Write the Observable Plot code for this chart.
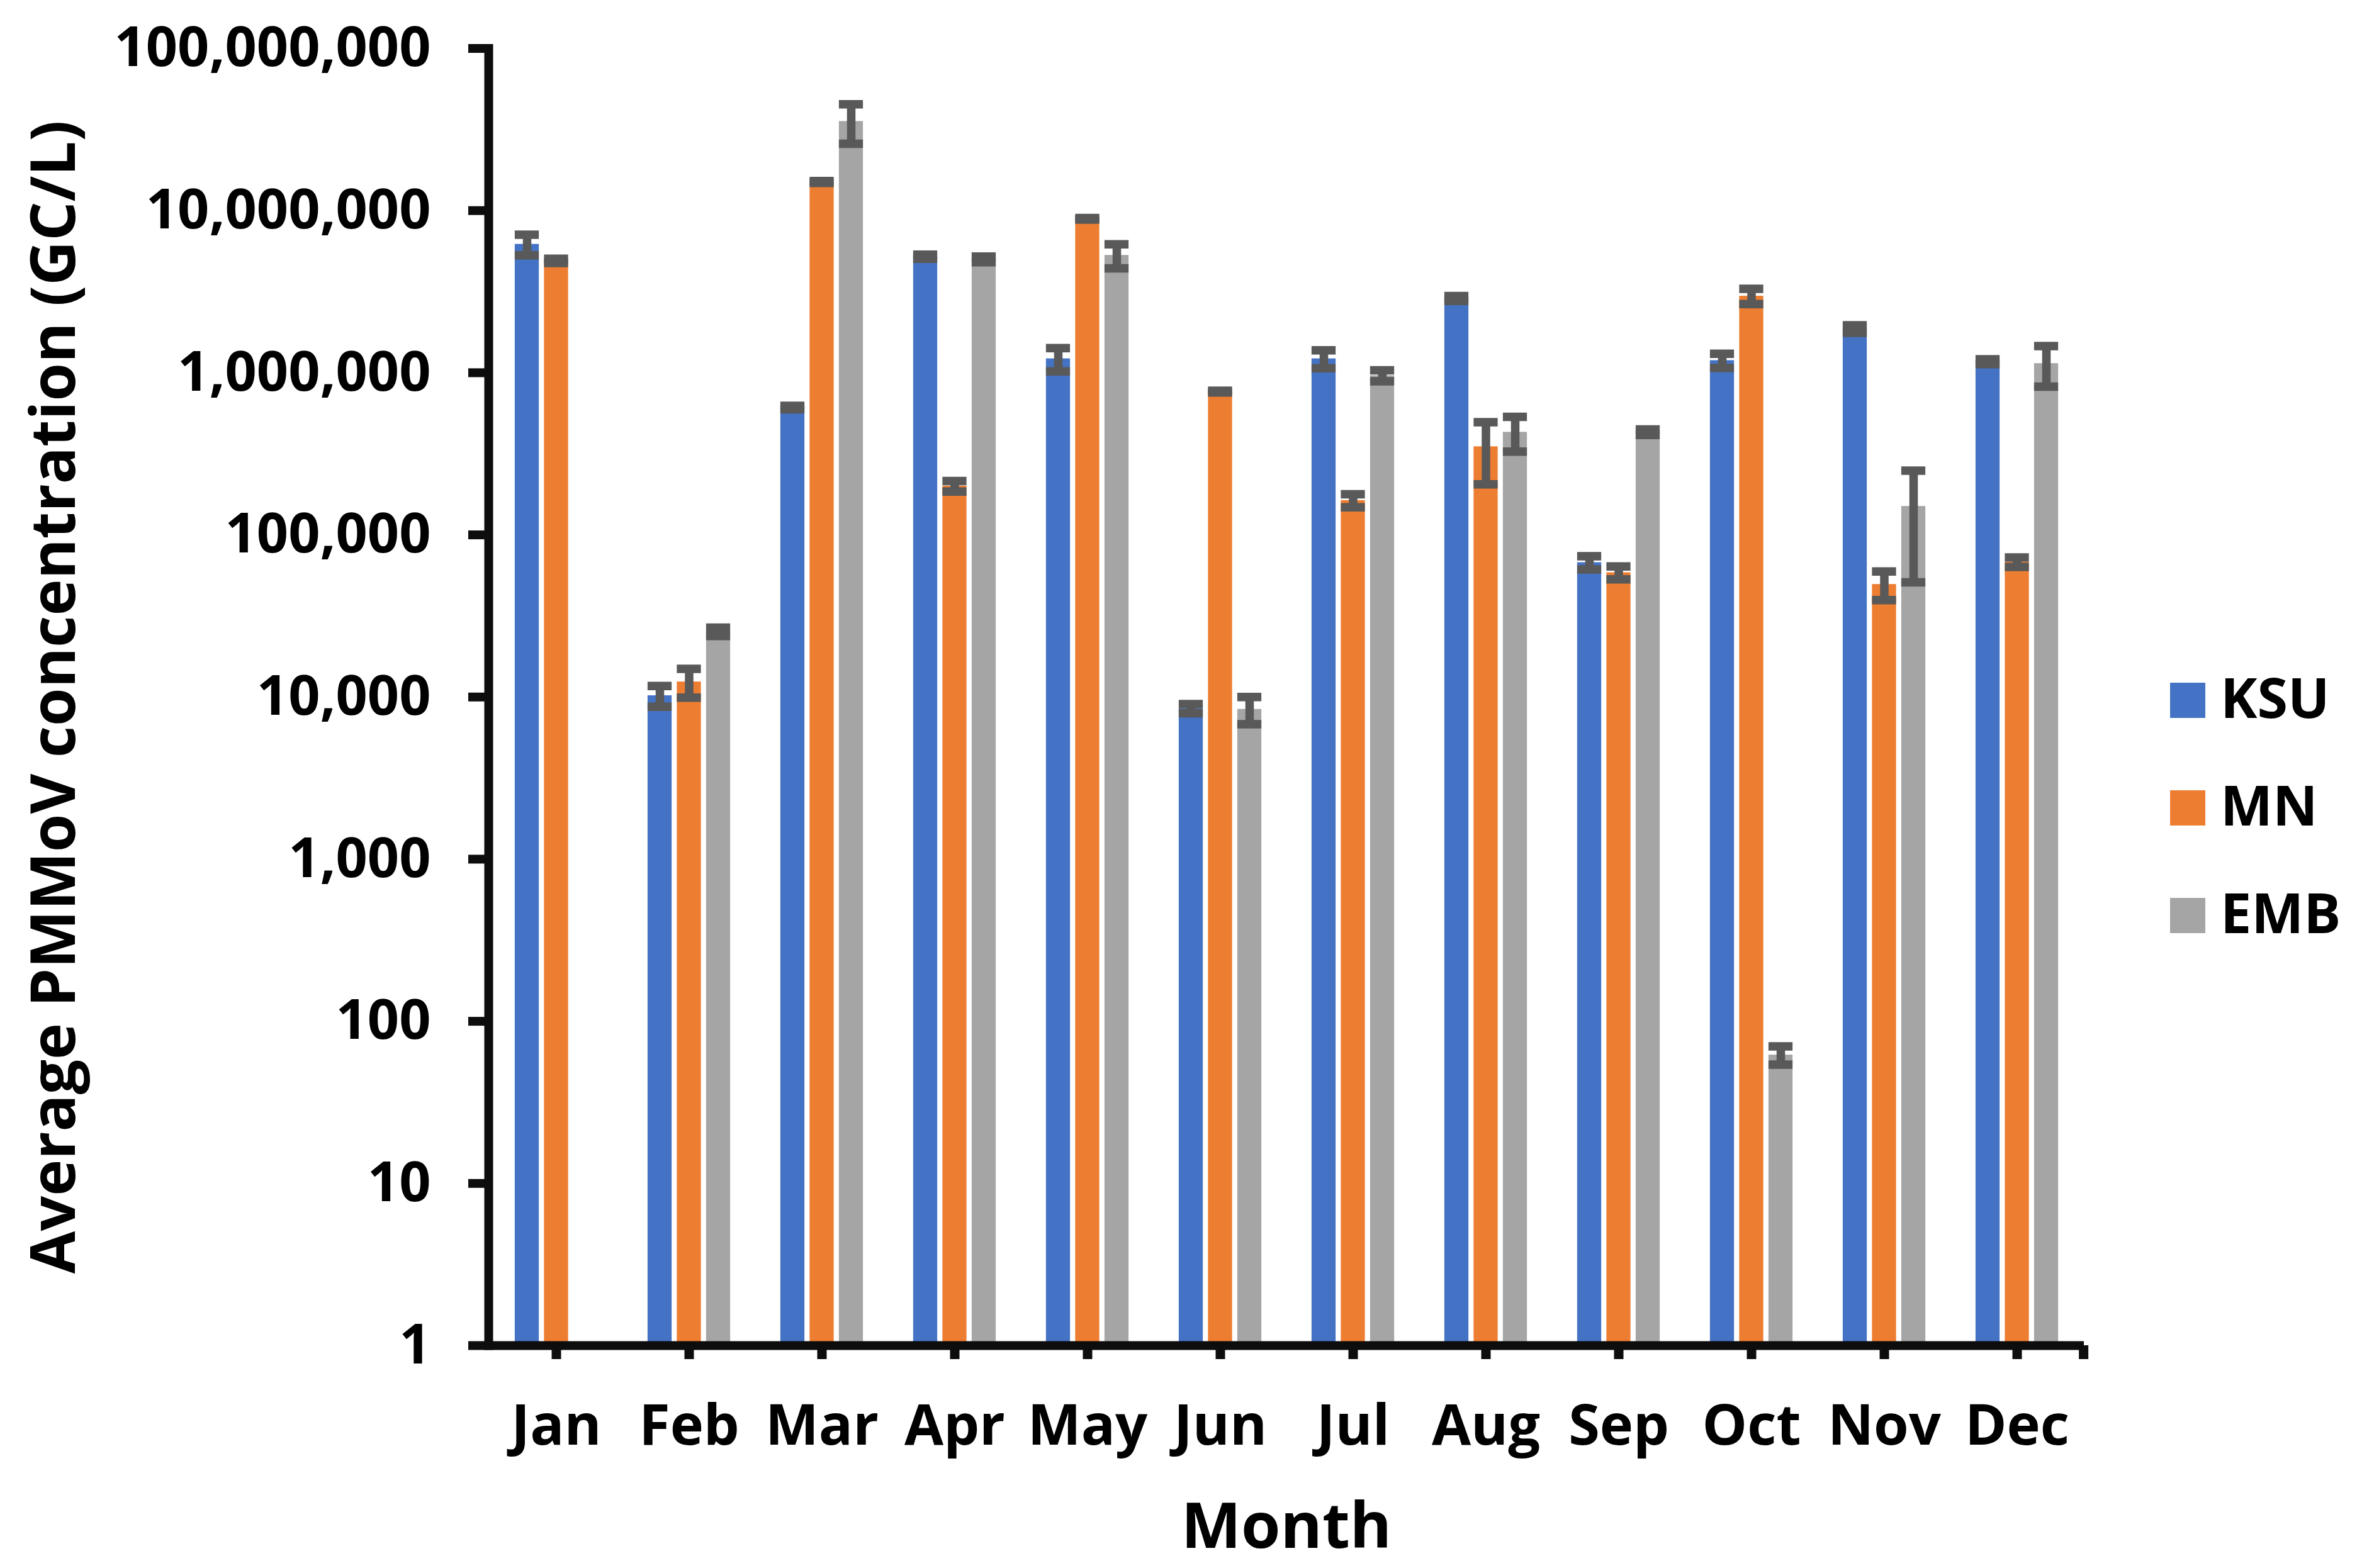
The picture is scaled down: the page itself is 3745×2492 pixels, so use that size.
<!DOCTYPE html>
<html>
<head>
<meta charset="utf-8">
<script src="https://cdn.jsdelivr.net/npm/d3@7"></script>
<script src="https://cdn.jsdelivr.net/npm/@observablehq/plot@0.6"></script>
<style>
  html, body { margin: 0; padding: 0; background: #ffffff; }
  #wrap { position: relative; width: 3745px; height: 2492px; background: #ffffff; overflow: hidden; }
  #legend { position: absolute; left: 3400px; top: 1040px; }
</style>
</head>
<body>
<div id="wrap"><div id="chart"></div><div id="legend"></div></div>
<script>
// ---- data ----
const months = ["Jan", "Feb", "Mar", "Apr", "May", "Jun", "Jul", "Aug", "Sep", "Oct", "Nov", "Dec"];
const seriesNames = ["KSU", "MN", "EMB"];
const seriesColors = ["#4472C4", "#ED7D31", "#A5A5A5"];

const ksuMean = [6.2e6, 1.02e4, 6.1e5, 5.2e6, 1.22e6, 8.5e3, 1.22e6, 2.87e6, 6.75e4, 1.19e6, 1.86e6, 1.17e6];
const ksuSD   = [0.9e6, 1.5e3, 1.5e4, 0.15e6, 0.2e6, 0.55e3, 0.155e6, 0.1e6, 6.3e3, 0.12e6, 0.1e6, 0.04e6];
const mnMean  = [4.9e6, 1.24e4, 1.5e7, 2.0e5, 8.9e6, 7.65e5, 1.63e5, 3.5e5, 5.85e4, 2.97e6, 4.95e4, 6.8e4];
const mnSD    = [0.15e6, 2.5e3, 0.2e6, 1.5e4, 0.1e6, 1.0e4, 1.5e4, 1.45e5, 5.3e3, 0.32e6, 9.9e3, 4.5e3];
const embMean = [null, 2.53e4, 3.55e7, 5.0e6, 5.3e6, 8.4e3, 9.6e5, 4.3e5, 4.3e5, 62, 1.5e5, 1.14e6];
const embSD   = [null, 1.5e3, 9.7e6, 0.2e6, 0.9e6, 1.6e3, 7.5e4, 1.04e5, 1.7e4, 8, 9.9e4, 3.2e5];

const yTicks = [1, 10, 100, 1000, 10000, 100000, 1000000, 10000000, 100000000];
const yLabel = "Average PMMoV concentration (GC/L)";
const xLabel = "Month";

// ---- tidy rows built from the arrays ----
const meansBySeries = [ksuMean, mnMean, embMean];
const sdsBySeries = [ksuSD, mnSD, embSD];
const rows = [];
seriesNames.forEach((s, i) => {
  months.forEach((m, j) => {
    const v = meansBySeries[i][j];
    if (v == null) return;
    const sd = sdsBySeries[i][j];
    rows.push({series: s, month: m, mean: v, hi: v + sd, lo: Math.max(v - sd, 1e-9)});
  });
});

// ---- layout ----
const W = 3745, H = 2492;
const mL = 776, mR = 434, mT = 76.5, mB = 354;
const band = (W - mL - mR) / months.length;
const BAR = 38.5, STEP = 46.5;
const inset = (band - BAR) / 2;
const ERR = "#595959";
const ERR_W = 13.5;
const AXIS = "#0d0d0d";

const marks = [];
seriesNames.forEach((s, i) => {
  const data = rows.filter(d => d.series === s);
  const dx = (i - 1) * STEP;
  marks.push(Plot.barY(data, {x: "month", y1: 1, y2: "mean", fill: seriesColors[i], insetLeft: inset, insetRight: inset, dx}));
});
seriesNames.forEach((s, i) => {
  const data = rows.filter(d => d.series === s);
  const dx = (i - 1) * STEP;
  marks.push(Plot.ruleX(data, {x: "month", y1: "lo", y2: "hi", stroke: ERR, strokeWidth: ERR_W, dx}));
  marks.push(Plot.tickY(data, {x: "month", y: "hi", stroke: ERR, strokeWidth: ERR_W, insetLeft: inset, insetRight: inset, dx}));
  marks.push(Plot.tickY(data, {x: "month", y: "lo", stroke: ERR, strokeWidth: ERR_W, insetLeft: inset, insetRight: inset, dx}));
});

marks.push(Plot.axisY({ticks: yTicks, tickFormat: d3.format(","), tickSize: 32, tickPadding: 60,
  fontSize: 88, fontWeight: "bold", stroke: AXIS, strokeWidth: 14, fill: "#000", label: null}));
marks.push(Plot.axisX({tickSize: 22, tickPadding: 72, fontSize: 90, fontWeight: "bold",
  stroke: AXIS, strokeWidth: 15, fill: "#000", label: null}));
// closing tick at the right end of the category axis
marks.push(Plot.axisX([months[months.length - 1]], {tickSize: 22, dx: band / 2, tickFormat: () => "",
  stroke: AXIS, strokeWidth: 15, label: null}));
marks.push(Plot.ruleY([1], {stroke: AXIS, strokeWidth: 14}));
marks.push(Plot.frame({anchor: "left", stroke: AXIS, strokeWidth: 14}));
marks.push(Plot.text([xLabel], {frameAnchor: "bottom", dy: 321, lineAnchor: "bottom", textAnchor: "middle",
  fontSize: 101, fontWeight: "bold", fill: "#000", text: d => d}));
marks.push(Plot.text([yLabel], {frameAnchor: "left", dx: -658, rotate: -90, lineAnchor: "bottom", textAnchor: "middle",
  fontSize: 98, fontWeight: "bold", fill: "#000", text: d => d}));

const chart = Plot.plot({
  width: W,
  height: H,
  marginLeft: mL,
  marginRight: mR,
  marginTop: mT,
  marginBottom: mB,
  style: {fontFamily: "'Open Sans', sans-serif", background: "#ffffff", color: "#000", overflow: "visible"},
  x: {domain: months, padding: 0, axis: null},
  y: {type: "log", domain: [1, 1e8], axis: null},
  marks
});
document.getElementById("chart").appendChild(chart);

// ---- legend ----
const lg = d3.select("#legend").append("svg").attr("width", 345).attr("height", 480)
  .style("font-family", "'Open Sans', sans-serif");
seriesNames.forEach((s, i) => {
  const top = 45 + i * 171;
  lg.append("rect").attr("x", 48).attr("y", top).attr("width", 56).attr("height", 56).attr("fill", seriesColors[i]);
  lg.append("text").attr("x", 128).attr("y", top + 56).attr("font-size", 88).attr("font-weight", "bold")
    .attr("fill", "#000").text(s);
});
</script>
</body>
</html>
